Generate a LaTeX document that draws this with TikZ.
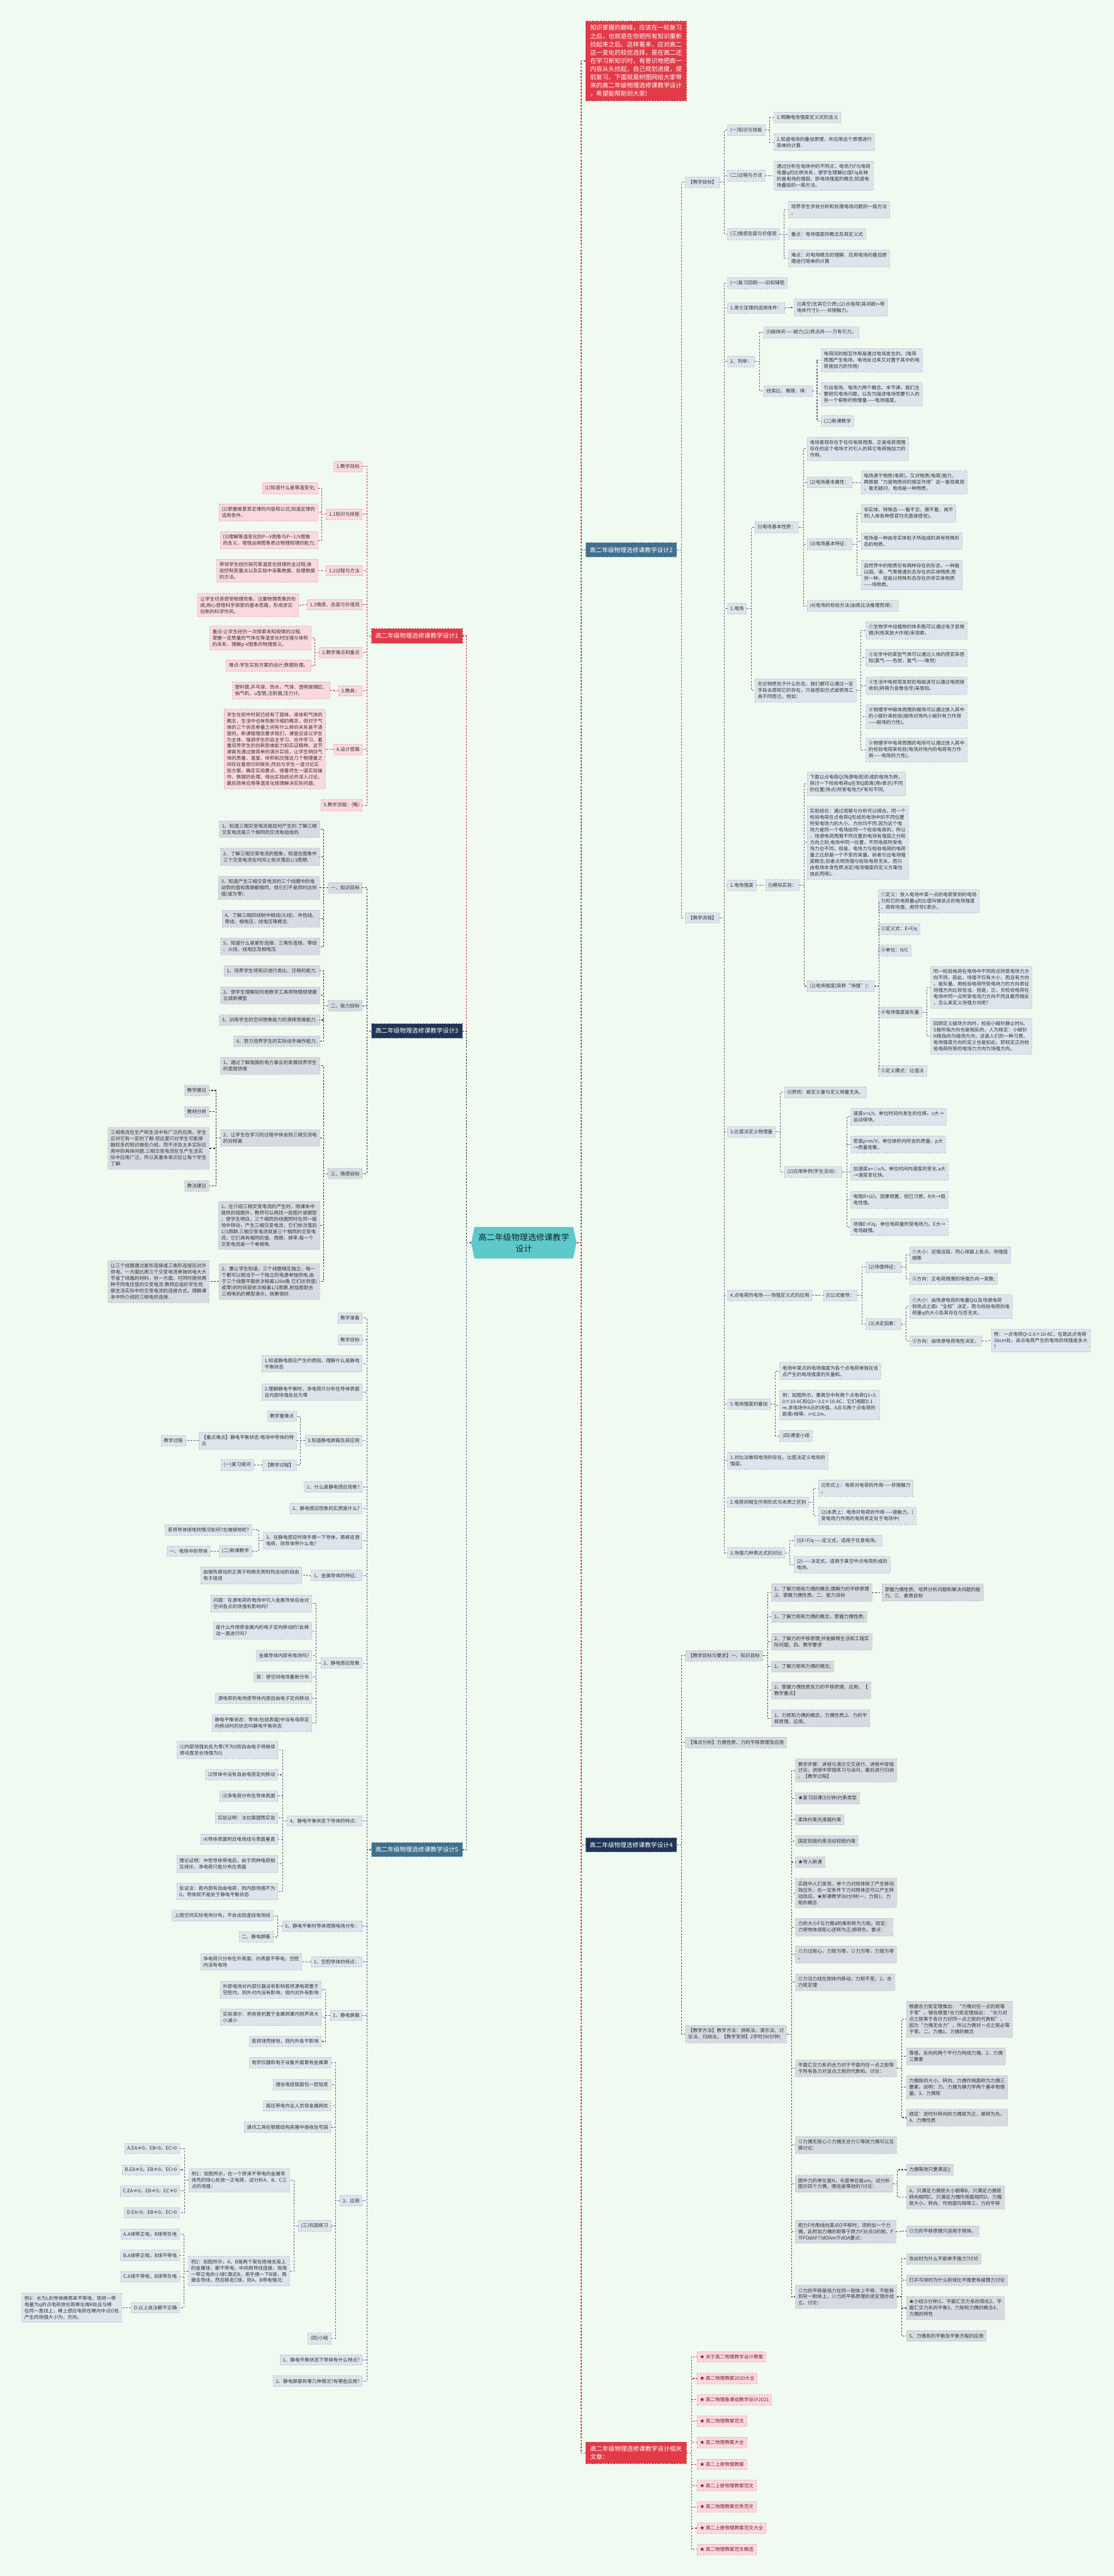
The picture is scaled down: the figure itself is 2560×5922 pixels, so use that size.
\documentclass[tikz,border=0pt]{standalone}
\usepackage{fontspec}
\setmainfont{Noto Sans CJK SC}
\usetikzlibrary{shapes.symbols}
\definecolor{bgc}{HTML}{F1FAF0}
\definecolor{grayb}{HTML}{DCE4EC}
\definecolor{grayn}{HTML}{D6DBE2}
\definecolor{grayline}{HTML}{B4C0CC}
\definecolor{pinkf}{HTML}{FAD9DE}
\definecolor{pinkline}{HTML}{EBA3AE}
\definecolor{redm}{HTML}{E23A47}
\definecolor{navym}{HTML}{1E3557}
\definecolor{steelm}{HTML}{41708F}
\definecolor{cyanm}{HTML}{5FC8CB}
\definecolor{txt}{HTML}{333333}
\definecolor{reltxt}{HTML}{7A1F2E}
\definecolor{lkred}{HTML}{C8343F}
\definecolor{lkblue}{HTML}{56677D}
\definecolor{lkdark}{HTML}{2B2B2B}
\definecolor{lksteel}{HTML}{3E6A88}
\tikzset{
  toR/.style={anchor=west},
  toL/.style={anchor=east},
  sm/.style={font=\fontsize{3.13}{4.1}\selectfont, align=left, inner xsep=0.06cm,
    inner ysep=0.07cm, text=txt, dash pattern=on 1pt off 0.8pt, line width=0.3pt},
  gb/.style={sm, fill=grayb, draw=grayline},
  gn/.style={sm, fill=grayn, draw=grayline},
  pk/.style={sm, fill=pinkf, draw=pinkline},
  rl/.style={sm, fill=pinkf, draw=pinkline, text=reltxt},
  mainbox/.style={font=\fontsize{4}{5.4}\selectfont, align=left, inner xsep=0.09cm,
    inner ysep=0.1cm, text=white, dash pattern=on 1pt off 0.8pt, line width=0.3pt},
  mred/.style={mainbox, fill=redm, draw=lkred, inner xsep=0.1cm, inner ysep=0.085cm},
  mnavy/.style={mainbox, fill=navym, draw=navym!60!white},
  msteel/.style={mainbox, fill=steelm, draw=steelm!60!white},
  root/.style={signal, signal to=west and east, signal pointer angle=156, fill=cyanm,
    minimum width=2.42cm, minimum height=0.72cm, inner sep=0pt, align=center,
    font=\fontsize{5.4}{7.4}\selectfont, text=black!80!cyanm},
  lk/.style={dash pattern=on 1.2pt off 0.9pt, line width=0.45pt},
  lkR/.style={lk, draw=lkred},
  lkB/.style={lk, draw=lkblue},
  lkC/.style={lk, draw=lkdark},
  lkD/.style={lk, draw=lkdark!85!white},
  lkE/.style={lk, draw=lksteel},
  spine/.style={line width=0.6pt}
}
\begin{document}
\begin{tikzpicture}[x=0.01cm,y=-0.01cm]
\fill[bgc] (0,0) rectangle (2560,5922);
\useasboundingbox (0,0) rectangle (2560,5922);

\node[root] (root) at (1204,2857) {高二年级物理选修课教学\\设计};

% right side, intro and design 2
\node[mred,toR] (intro) at (1346,140) {知识掌握的巅峰，应该在一轮复习\\之后，也就是在你把所有知识重新\\捡起来之后。这样看来，应对高二\\这一变化的较优选择，是在高二还\\在学习新知识时，有意识地把高一\\内容从头捡起，自己规划进度，提\\前复习。下面就是树图网给大家带\\来的高二年级物理选修课教学设计\\，希望能帮助到大家!};
\node[msteel,toR] (d2) at (1346,1264) {高二年级物理选修课教学设计2};
\node[gb,toR] (b1) at (1575,419) {【教学目标】};
\node[gb,toR] (b11) at (1672,299) {(一)知识与技能};
\node[gb,toR] (b111) at (1779,270) {1.明确电场强度定义式的含义};
\node[gb,toR] (b112) at (1779,327) {2.知道电场的叠加原理，并应用这个原理进行\\简单的计算.};
\node[gb,toR] (b12) at (1672,404) {(二)过程与方法};
\node[gb,toR] (b121) at (1779,404) {通过分析在电场中的不同点，电场力F与电荷\\电量q的比例关系，使学生理解比值F/q反映\\的是电场的强弱，即电场强度的概念;知道电\\场叠加的一般方法。};
\node[gb,toR] (b13) at (1672,538) {(三)情感态度与价值观};
\node[gb,toR] (b131) at (1812,482) {培养学生学会分析和处理电场问题的一般方法\\。};
\node[gb,toR] (b132) at (1812,538) {重点：电场强度的概念及其定义式};
\node[gb,toR] (b133) at (1812,594) {难点：对电场概念的理解、应用电场的叠加原\\理进行简单的计算};

\node[gb,toR] (b2) at (1575,2110) {【教学流程】};
\node[gb,toR] (c1) at (1672,651) {(一)复习回顾——旧知铺垫};
\node[gb,toR] (c2) at (1672,708) {1.库仑定律的适用条件：};
\node[gb,toR] (c21) at (1825,707) {(l)真空(无其它介质);(2)点电荷(其间距r>>带\\电体尺寸l)——非接触力。};
\node[gb,toR] (c3) at (1672,831) {2、列举：};
\node[gb,toR] (c31) at (1755,764) {(l)磁体间——磁力;(2)质点间——万有引力。};
\node[gb,toR] (c32) at (1755,899) {经类比、推理，得：};
\node[gb,toR] (c321) at (1887,828) {电荷间的相互作用是通过电场发生的。(电荷\\周围产生电场，电场反过来又对置于其中的电\\荷施加力的作用)};
\node[gb,toR] (c322) at (1887,906) {引出电场、电场力两个概念。本节课，我们主\\要研究电场问题，以及为描述电场而要引入的\\另一个崭新的物理量——电场强度。};
\node[gb,toR] (c323) at (1887,968) {(二)新课教学};
\node[gb,toR] (c4) at (1672,1399) {1.电场};
\node[gb,toR] (c41) at (1735,1212) {(l)电场基本性质：};
\node[gb,toR] (c411) at (1855,1032) {电场客观存在于任何电荷周围，正是电荷周围\\存在的这个电场才对引入的其它电荷施加力的\\作用。};
\node[gb,toR] (c412) at (1855,1109) {(2)电场基本属性：};
\node[gb,toR] (c4121) at (1979,1109) {电场源于物质(电荷)，又对物质(电荷)施力。\\再根据“力是物质间的相互作用”这一客观真观\\，毫无疑问，电场是一种物质。};
\node[gb,toR] (c413) at (1855,1251) {(3)电场基本特征：};
\node[gb,toR] (c4131) at (1979,1180) {非实体、特殊态——看不见、摸不着、闻不\\到(人体各种感官均无直接感觉)。};
\node[gb,toR] (c4132) at (1979,1244) {电场是一种由非实体粒子所组成的具有特殊形\\态的物质。};
\node[gb,toR] (c4133) at (1979,1322) {自然界中的物质仅有两种存在的形态，一种是\\以固、液、气等普通形态存在的实体物质;而\\另一种，就是以特殊形态存在的非实体物质\\——场物质。};
\node[gb,toR] (c414) at (1855,1393) {(4)电场的检验方法(由类比法推理而得)：};
\node[gb,toR] (c42) at (1735,1587) {无论物质处于什么形态，我们都可以通过一定\\手段去感知它的存在，只是感知方式或使用工\\具不同而已，例如：};
\node[gb,toR] (c421) at (1990,1449) {①生物学中动植物的体系胞可以通过电子显微\\镜(利用其放大作用)来观察。};
\node[gb,toR] (c422) at (1990,1512) {②化学中的某些气体可以通过人体的感官来感\\知(氯气——色觉，氨气——嗅觉)};
\node[gb,toR] (c423) at (1990,1576) {③生活中电视塔发射的电磁波可以通过电视接\\收机(转换为音像信号)来感知。};
\node[gb,toR] (c424) at (1990,1647) {④物理学中磁体周围的磁场可以通过放入其中\\的小磁针来检验(磁场对场内小磁针有力作用\\——磁场的力性)。};
\node[gb,toR] (c425) at (1990,1724) {⑤物理学中电荷周围的电场可以通过放入其中\\的检验电荷来检验(电场对场内的电荷有力作\\用——电场的力性)。};
\node[gb,toR] (c5) at (1672,2035) {2.电场强度};
\node[gb,toR] (c51) at (1759,2035) {(l)模拟实验：};
\node[gb,toR] (c511) at (1855,1802) {下面以点电荷Q(场源电荷)形成的电场为例，\\探讨一下检验电荷q在到Q距离(用r表示)不同\\的位置(场点)所受电场力F有何不同。};
\node[gb,toR] (c512) at (1855,1937) {实验结论：通过观察与分析可以得出，同一个\\检验电荷在点电荷Q形成的电场中的不同位置\\所受电场力的大小、方向均不同.因为这个电\\场力是同一个电场给同一个检验电荷的，所以\\，场源电荷周围不同位置的电场有强弱之分和\\方向之别;电场中同一位置，不同电荷所受电\\场力也不同，但是，电场力与检验电荷的电荷\\量之比却是一个不变的常量。前者引出电场强\\度概念;后者点明场强与检验电荷无关，而只\\由电场本身性质决定(电场强度的定义方案也\\由此而得)。};
\node[gb,toR] (c513) at (1855,2267) {(2)电场强度(简称“场强”)：};
\node[gb,toR] (c5131) at (2018,2072) {①定义：放入电场中某一点的电荷受到的电场\\力和它的电荷量q的比值叫做该点的电场强度\\，简称场强，用符号E表示。};
\node[gb,toR] (c5132) at (2018,2136) {②定义式：E=F/q};
\node[gb,toR] (c5133) at (2018,2185) {③单位：N/C};
\node[gb,toR] (c5134) at (2018,2327) {④电场强度是矢量};
\node[gb,toR] (c51341) at (2139,2270) {同一检验电荷在电场中不同的点所受电场力方\\向不同，因此，场强不仅有大小，而且有方向\\，是矢量。用检验电荷所受电场力的方向表征\\场强方向比较恰当，但是，正、负检验电荷在\\电场中同一点所受电场力方向不同且截然相反\\，怎么来定义场强方向呢?};
\node[gb,toR] (c51342) at (2139,2382) {回顾定义磁场方向时，检验小磁针静止时N、\\S极所指方向也是相反的，人为规定：小磁针\\N极指向为磁场方向，这是人们的一种习惯。\\电场强度方向的定义也是如此，即规定正的检\\验电荷所受的电场力方向为场强方向。};
\node[gb,toR] (c5135) at (2018,2462) {⑤定义模式：比值法};
\node[gb,toR] (c6) at (1672,2602) {3.比值法定义物理量};
\node[gb,toR] (c61) at (1803,2511) {(l)原则：被定义量与定义用量无关。};
\node[gb,toR] (c62) at (1803,2694) {(2)应用举例(学生活动)：};
\node[gb,toR] (c621) at (1955,2567) {速度v=s/t。单位时间内发生的位移。v大→\\运动得快。};
\node[gb,toR] (c622) at (1955,2631) {密度ρ=m/V。单位体积内所含的质量。ρ大\\→质量密集。};
\node[gb,toR] (c623) at (1955,2694) {加速度a=△v/t。单位时间内速度的变化.a大\\→速度变化快。};
\node[gb,toR] (c624) at (1955,2758) {电阻R=U/I。因果倒置，但已习惯。R大→阻\\电性强。};
\node[gb,toR] (c625) at (1955,2821) {场强E=F/q。单位电荷量所受电场力。E大→\\电场越强。};
\node[gb,toR] (c7) at (1672,2978) {4.点电荷的电场——场强定义式的应用};
\node[gb,toR] (c71) at (1892,2978) {(l)公式推导：};
\node[gb,toR] (c711) at (1990,2913) {(2)场强特征：};
\node[gb,toR] (c7111) at (2090,2885) {①大小：近强远弱，同心球面上各点，场强值\\相等};
\node[gb,toR] (c7112) at (2090,2940) {②方向：正电荷周围的场强方向一发散;};
\node[gb,toR] (c712) at (1990,3044) {(3)决定因素：};
\node[gb,toR] (c7121) at (2090,3004) {①大小：由场源电荷的电量Q以及场源电荷\\到场点之距r“全权”决定，而与检验电荷的电\\荷量q的大小及其存在与否无关。};
\node[gb,toR] (c7122) at (2090,3083) {②方向：由场源电荷电性决定。};
\node[gb,toR] (c71221) at (2278,3082) {例：一点电荷Q=2.0×10-8C，在距此点电荷\\30cm处，该点电荷产生的电场的场强是多大\\?};
\node[gb,toR] (c8) at (1672,3228) {5.电场强度的叠加};
\node[gb,toR] (c81) at (1792,3152) {电场中某点的电场强度为各个点电荷单独在该\\点产生的电场强度的矢量和。};
\node[gb,toR] (c82) at (1792,3230) {例：如图所示，要真空中有两个点电荷Q1=3.\\0×10-8C和Q2=-3.0×10-8C，它们相距0.1\\m.求电场中A点的场强。A点与两个点电荷的\\距离r相等，r=0.1m。};
\node[gb,toR] (c83) at (1792,3301) {(四)课堂小结};
\node[gb,toR] (c9) at (1672,3358) {1.对比法推知电场的存在，比值法定义电场的\\强度。};
\node[gb,toR] (c10) at (1672,3453) {2.电荷间相互作用形式与本质之区别};
\node[gb,toR] (c101) at (1881,3421) {(l)形式上：电荷对电荷的作用——非接触力\\。};
\node[gb,toR] (c102) at (1881,3485) {(2)本质上：电场对电荷的作用——接触力。(\\受电场力作用的电荷肯定处于电场中)};
\node[gb,toR] (c11) at (1672,3570) {3.场强几种表达式的对比};
\node[gb,toR] (c111) at (1825,3542) {(l)E=F/q——定义式，适用于任意电场。};
\node[gb,toR] (c112) at (1825,3597) {(2)——决定式，适用于真空中点电荷形成的\\电场。};

% right side, design 4
\node[mnavy,toR] (d4) at (1346,4241) {高二年级物理选修课教学设计4};
\node[gn,toR] (e1) at (1575,3806) {【教学目标与要求】一、知识目标};
\node[gn,toR] (e11) at (1773,3661) {1、了解力矩和力偶的概念;理解力的平移原理\\;2、掌握力偶性质。二、能力目标};
\node[gn,toR] (e111) at (2027,3661) {掌握力偶性质，培养分析问题和解决问题的能\\力。三、素质目标};
\node[gn,toR] (e12) at (1773,3717) {1、了解力矩和力偶的概念，掌握力偶性质;};
\node[gn,toR] (e13) at (1773,3774) {2、了解力的平移原理;并能解释生活和工程实\\际问题。四、教学要求};
\node[gn,toR] (e14) at (1773,3831) {1、了解力矩和力偶的概念;};
\node[gn,toR] (e15) at (1773,3886) {2、掌握力偶性质及力的平移原理、应用。【\\教学重点】};
\node[gn,toR] (e16) at (1773,3950) {1、力矩和力偶的概念，力偶性质;2、力的平\\移原理、应用。};
\node[gn,toR] (e2) at (1575,4006) {【难点分析】力偶性质、力的平移原理及应用};
\node[gn,toR] (e3) at (1575,4676) {【教学方法】教学方法：讲练法、演示法、讨\\论法、归纳法。【教学安排】2学时(90分钟)};
\node[gn,toR] (e31) at (1828,4070) {教学步骤：讲授与演示交叉进行、讲授中穿插\\讨论、讲授中穿插练习与设问，最后进行归纳\\。【教学过程】};
\node[gn,toR] (e32) at (1828,4134) {★复习旧课(5分钟)约束类型};
\node[gn,toR] (e33) at (1828,4183) {柔体约束光滑面约束};
\node[gn,toR] (e34) at (1828,4232) {固定铰链约束活动铰链约束};
\node[gn,toR] (e35) at (1828,4281) {★导入新课};
\node[gn,toR] (e36) at (1828,4352) {实践中人们发现，单个力对刚体除了产生移动\\效应外，在一定条件下力对刚体还可以产生转\\动效应。★新课教学(80分钟)一、力矩1、力\\矩的概念};
\node[gn,toR] (e37) at (1828,4430) {力的大小F与力臂d的乘积称为力矩。规定：\\力使物体绕矩心逆转为正;顺转负。要点：};
\node[gn,toR] (e38) at (1828,4493) {⊙力过矩心，力矩为零。⊙力为零，力矩为零\\。};
\node[gn,toR] (e39) at (1828,4557) {⊙力沿力线在刚体内移动，力矩不变。2、合\\力矩定理};
\node[gn,toR] (e310) at (1828,4755) {平面汇交力系的合力对于平面内任一点之矩等\\于所有各力对该点之矩的代数和。讨论：};
\node[gn,toR] (e3101) at (2083,4642) {根据合力矩定理推出：“力偶对任一点的矩等\\于零”，错在哪里?合力矩定理指出：“合力对\\点之矩等于各分力对同一点之矩的代数和”，\\因为“力偶无合力”，所以力偶对一点之矩必等\\于零。二、力偶1、力偶的概念};
\node[gn,toR] (e3102) at (2083,4727) {等值、反向的两个平行力构成力偶。2、力偶\\三要素};
\node[gn,toR] (e3103) at (2083,4798) {力偶矩的大小、转向、力偶作用面称为力偶三\\要素。说明：力、力偶为静力学两个基本物理\\量。3、力偶矩};
\node[gn,toR] (e3104) at (2083,4868) {规定：逆时针转向的力偶矩为正，顺转为负。\\4、力偶性质};
\node[gn,toR] (e311) at (1828,4931) {⊙力偶无矩心⊙力偶无合力⊙等效力偶可以互\\换讨论：};
\node[gn,toR] (e312) at (1828,5020) {图中力的单位是N，长度单位是cm。试分析\\图示四个力偶，哪些是等效的?讨论：};
\node[gn,toR] (e3121) at (2083,4988) {力偶等效只要满足()};
\node[gn,toR] (e3122) at (2083,5051) {A、只满足力偶矩大小相等B、只满足力偶矩\\转向相同C、只满足力偶作用面相同D、力偶\\矩大小、转向、作用面均相等三、力的平移};
\node[gn,toR] (e313) at (1828,5130) {把力F作用线向某点O平移时，须附加一个力\\偶，此附加力偶的矩等于原力F对点O的矩。F\\?FFOdAF??dOAm?FdOA要点：};
\node[gn,toR] (e3131) at (2083,5129) {⊙力的平移原理只适用于刚体。};
\node[gn,toR] (e314) at (1828,5280) {⊙力的平移是指力在同一刚体上平移，不能移\\到另一刚体上。⊙力的平移原理的逆定理亦成\\立。讨论：};
\node[gn,toR] (e3141) at (2083,5193) {攻丝时为什么不能单手施力?讨论};
\node[gn,toR] (e3142) at (2083,5242) {打乒乓球时为什么削球比平推更有威慑力讨论};
\node[gn,toR] (e3143) at (2083,5306) {★小结(5分钟)1、平面汇交力系的简化2、平\\面汇交力系的平衡3、力矩和力偶的概念4、\\力偶的特性};
\node[gn,toR] (e3144) at (2083,5370) {5、力偶系的平衡及平衡方程的应用};

% right side, related articles
\node[mred,toR] (rel) at (1346,5639) {高二年级物理选修课教学设计相关\\文章：};
\node[rl,toR] (r1) at (1602,5418) {★ 关于高二物理教学设计教案};
\node[rl,toR] (r2) at (1602,5468) {★ 高二物理教案2020大全};
\node[rl,toR] (r3) at (1602,5517) {★ 高二物理备课组教学设计2021};
\node[rl,toR] (r4) at (1602,5566) {★ 高二物理教案范文};
\node[rl,toR] (r5) at (1602,5615) {★ 高二物理教案大全};
\node[rl,toR] (r6) at (1602,5665) {★ 高二上册物理教案};
\node[rl,toR] (r7) at (1602,5714) {★ 高二上册物理教案范文};
\node[rl,toR] (r8) at (1602,5763) {★ 高二物理教案优秀范文};
\node[rl,toR] (r9) at (1602,5812) {★ 高二上册物理教案范文大全};
\node[rl,toR] (r10) at (1602,5861) {★ 高二物理教案范文精选};

% left side, design 1
\node[mred,toL,inner xsep=0.09cm,inner ysep=0.1cm] (d1) at (1063,1462) {高二年级物理选修课教学设计1};
\node[pk,toL] (f1) at (833,1072) {1.教学目标};
\node[pk,toL] (f2) at (833,1182) {1.1知识与技能};
\node[pk,toL] (f21) at (731,1122) {(1)知道什么是等温变化;};
\node[pk,toL] (f22) at (731,1178) {(2)掌握玻意耳定律的内容和公式;知道定律的\\适用条件。};
\node[pk,toL] (f23) at (731,1242) {(3)理解等温变化的P—V图象与P—1/V图象\\的含义，增强运用图象表达物理规律的能力;};
\node[pk,toL] (f3) at (833,1312) {1.2过程与方法};
\node[pk,toL] (f31) at (731,1312) {带领学生经历探究等温变化规律的全过程,体\\验控制变量法以及实验中采集数据、处理数据\\的方法。};
\node[pk,toL] (f4) at (833,1390) {1.3情感、态度与价值观};
\node[pk,toL] (f41) at (687,1391) {让学生切身感受物理现象，注重物理表象的形\\成;用心感悟科学探索的基本思路，形成求实\\创新的科学作风。};
\node[pk,toL] (f5) at (833,1500) {2.教学难点和重点};
\node[pk,toL] (f51) at (715,1467) {重点:让学生经历一次探索未知规律的过程,\\掌握一定质量的气体在等温变化时压强与体积\\的关系，理解p-V图象的物理意义。};
\node[pk,toL] (f52) at (715,1530) {难点:学生实验方案的设计;数据处理。};
\node[pk,toL] (f6) at (833,1588) {3.教具：};
\node[pk,toL] (f61) at (759,1587) {塑料管,乒乓球、热水，气球、透明玻璃缸、\\抽气机，u型管,注射器,压力计。};
\node[pk,toL] (f7) at (833,1723) {4.设计思路};
\node[pk,toL] (f71) at (748,1722) {学生在初中时就已经有了固体、液体和气体的\\概念，生活中也有热胀冷缩的概念，但对于气\\体的三个状态参量之间有什么样的关系是不清\\楚的。新课程理念要求我们，课堂应该以学生\\为主体，强调学生的自主学习、合作学习，着\\重培养学生的创新思维能力和实证精神。这节\\课首先通过做简单的演示实验，让学生明白气\\体的质量、温度、体积和压强这几个物理量之\\间存在着密切的联系;然后与学生一道讨论实\\验方案，确定实验要点，接着师生一道实验操\\作，数据的处理，得出实验结论并深入讨论，\\最后简单应用等温变化规律解决实际问题。};
\node[pk,toL] (f8) at (833,1851) {5.教学流程：(略)};

% left side, design 3
\node[mnavy,toL] (d3) at (1063,2370) {高二年级物理选修课教学设计3};
\node[gn,toL] (g1) at (833,2041) {一、知识目标};
\node[gn,toL] (g11) at (735,1906) {1、知道三相交变电流是如何产生的.了解三相\\交变电流是三个相同的交流电组成的.};
\node[gn,toL] (g12) at (735,1970) {2、了解三相交变电流的图象，知道在图象中\\三个交变电流在时间上依次落后1/3周期.};
\node[gn,toL] (g13) at (735,2041) {3、知道产生三相交变电流的三个线圈中的电\\动势的值和周期都相同，但它们不是同时达到\\值(或为零).};
\node[gn,toL] (g14) at (735,2112) {4、了解三相四线制中相线(火线)、中性线、\\零线、相电压、线电压等概念.};
\node[gn,toL] (g15) at (735,2176) {5、知道什么是星形连接、三角形连接、零线\\、火线、线电压及相电压.};
\node[gn,toL] (g2) at (833,2312) {二、能力目标};
\node[gn,toL] (g21) at (735,2232) {1、培养学生将知识进行类比、迁移的能力.};
\node[gn,toL] (g22) at (735,2288) {2、使学生理解如何用数学工具将物理规律建\\立成新模型};
\node[gn,toL] (g23) at (735,2345) {3、训练学生的空间想象能力的演绎思维能力.};
\node[gn,toL] (g24) at (735,2394) {4、努力培养学生的实际动手操作能力.};
\node[gn,toL] (g3) at (833,2698) {三、情感目标};
\node[gn,toL] (g31) at (735,2450) {1、通过了解我国的电力事业的发展培养学生\\的爱国热情};
\node[gn,toL] (g32) at (735,2616) {2、让学生在学习的过程中体会到三相交流电\\的对称美};
\node[gn,toL] (g321) at (481,2507) {教学建议};
\node[gn,toL] (g322) at (481,2556) {教材分析};
\node[gn,toL] (g323) at (481,2640) {三相电流在生产和生活中有广泛的应用，学生\\应对它有一定的了解.但这里只对学生可能接\\触较多的知识做些介绍，而不涉及太多实际应\\用中的具体问题.三相交变电流在生产生活实\\际中应用广泛，所以其基本常识应让每个学生\\了解.};
\node[gn,toL] (g324) at (481,2726) {教法建议};
\node[gn,toL] (g33) at (735,2817) {1、在介绍三相交变电流的产生时，除课本中\\提供的插图外，教师可以再找一些图片或模型\\，使学生明白，三个相同的线圈同时在同一磁\\场中转动，产生三相交变电流，它们依次落后\\1/3周期.三相交变电流就是三个相同的交变电\\流，它们具有相同的值、周期、频率.每一个\\交变电流是一个单相电.};
\node[gn,toL] (g34) at (735,2946) {2、要让学生知道，三个线圈相互独立，每一\\个都可以相当于一个独立的电源单独供电.由\\于三个线圈平面依次相差120o角.它们达到值(\\或零)的时间就依次相差1/3周期.用挂图配合\\三相电机的模型演示，效果很好.};
\node[gn,toL] (g341) at (481,2946) {让三个线圈通过星形连接或三角形连接后对外\\供电，一方面比用三个交变电流单独供电大大\\节省了线路的材料，另一方面，可同时提供两\\种不同电压值的交变电流.教师应组织学生观\\察生活实际中的交变电流的连接方式，理解课\\本中所介绍的三相电的连接.};

% left side, design 5
\node[msteel,toL] (d5) at (1063,4252) {高二年级物理选修课教学设计5};
\node[gb,toL] (h1) at (833,3030) {教学准备};
\node[gb,toL] (h2) at (833,3080) {教学目标};
\node[gb,toL] (h3) at (833,3135) {1.知道静电感应产生的原因，理解什么是静电\\平衡状态};
\node[gb,toL] (h4) at (833,3200) {2.理解静电平衡时，净电荷只分布在导体表面\\且内部场强处处为零};
\node[gb,toL] (h5) at (833,3312) {3.知道静电屏蔽及其应用};
\node[gb,toL] (h51) at (682,3256) {教学重难点};
\node[gb,toL] (h52) at (682,3312) {【重点难点】静电平衡状态:电场中导体的特\\点};
\node[gb,toL] (h521) at (427,3312) {教学过程};
\node[gb,toL] (h53) at (682,3368) {【教学过程】};
\node[gb,toL] (h531) at (583,3368) {(一)复习提问};
\node[gb,toL] (h6) at (833,3418) {1、什么是静电感应现象?};
\node[gb,toL] (h7) at (833,3468) {2、静电感应现象的实质是什么?};
\node[gb,toL] (h8) at (833,3542) {3、在静电感应时用手摸一下导体，再移走源\\电荷，则导体带什么电?};
\node[gb,toL] (h81) at (579,3517) {若将导体接地则情况如何?左端接地呢?};
\node[gb,toL] (h82) at (579,3566) {(二)新课教学};
\node[gb,toL] (h821) at (484,3566) {一、电场中的导体};
\node[gb,toL] (h9) at (833,3622) {1、金属导体的特征：};
\node[gb,toL] (h91) at (694,3621) {由做热振动的正离子和做无规则热运动的自由\\电子组成};
\node[gb,toL] (h10) at (833,3823) {2、静电感应现象};
\node[gb,toL] (h101) at (717,3686) {问题：在源电荷的电场中引入金属导体后会对\\空间各点的场强有影响吗?};
\node[gb,toL] (h102) at (717,3749) {是什么作用使金属内的电子定向移动的?此移\\动一直进行吗?};
\node[gb,toL] (h103) at (717,3806) {金属导体内部有电场吗?};
\node[gb,toL] (h104) at (717,3855) {答：使空间电场重新分布};
\node[gb,toL] (h105) at (717,3904) {源电荷的电场使导体内部自由电子定向移动};
\node[gb,toL] (h106) at (717,3961) {静电平衡状态：导体(包括表面)中没有电荷定\\向移动时的状态叫静电平衡状态};
\node[gb,toL] (h11) at (833,4186) {4、静电平衡状态下导体的特点：};
\node[gb,toL] (h111) at (639,4023) {⑴内部场强处处为零(不为0则自由电子将继续\\移动直至合场强为0)};
\node[gb,toL] (h112) at (639,4080) {⑵导体中没有自由电荷定向移动};
\node[gb,toL] (h113) at (639,4129) {⑶净电荷分布在导体表面};
\node[gb,toL] (h114) at (639,4179) {实验证明：法拉第圆筒实验};
\node[gb,toL] (h115) at (639,4228) {⑷导体表面附近电场线与表面垂直};
\node[gb,toL] (h116) at (639,4285) {理论证明：中性导体带电后，由于同种电荷相\\互排斥，净电荷只能分布在表面};
\node[gb,toL] (h117) at (639,4348) {反证法：若内部有自由电荷，则内部场强不为\\0，导体就不是处于静电平衡状态};
\node[gb,toL] (h12) at (833,4428) {5、静电平衡时导体周围电场分布：};
\node[gb,toL] (h121) at (628,4404) {上图空间实际电场分布，不会出现虚线电场线};
\node[gb,toL] (h122) at (628,4453) {二、静电屏蔽};
\node[gb,toL] (h13) at (833,4510) {1、空腔导体的特点：};
\node[gb,toL] (h131) at (694,4510) {净电荷只分布在外表面，内表面不带电，空腔\\内没有电场};
\node[gb,toL] (h14) at (833,4633) {1、静电屏蔽};
\node[gb,toL] (h141) at (739,4574) {外部电场对内部仪器没有影响若将源电荷置于\\空腔内，则外对内没有影响，但内对外有影响};
\node[gb,toL] (h142) at (739,4637) {实验演示：将收音机置于金属网罩内则声音大\\小减小};
\node[gb,toL] (h143) at (739,4693) {若将球壳接地，则内外各不影响};
\node[gb,toL] (h15) at (833,5059) {3、应用};
\node[gb,toL] (h151) at (761,4742) {电学仪器和电子设备外面套有金属罩};
\node[gb,toL] (h152) at (761,4792) {通信电缆版面包一层铅皮};
\node[gb,toL] (h153) at (761,4841) {高压带电作业人员穿金属网衣};
\node[gb,toL] (h154) at (761,4890) {通讯工具在钢筋结构房屋中接收信号弱};
\node[gb,toL] (h155) at (761,5117) {(三)巩固练习};
\node[gb,toL] (h1551) at (666,5012) {例1：如图所示，在一个原来不带电的金属导\\体壳的球心处放一正电荷，试分析A、B、C三\\点的场强：};
\node[gb,toL] (h15511) at (413,4939) {A.EA≠0，EB=0，EC=0};
\node[gb,toL] (h15512) at (413,4988) {B.EA≠0，EB≠0，EC=0};
\node[gb,toL] (h15513) at (413,5037) {C.EA≠0，EB≠0，EC≠0};
\node[gb,toL] (h15514) at (413,5087) {D.EA=0，EB≠0，EC=0};
\node[gb,toL] (h1552) at (666,5221) {例2：如图所示，A、B是两个架在绝缘支座上\\的金属球，都不带电，中间用导线连接，现用\\一带正电的小球C靠近B，用手摸一下B球，再\\撤去导线，然后移走C球，则A、B带电情况：};
\node[gb,toL] (h15521) at (413,5136) {A.A球带正电，B球带负电};
\node[gb,toL] (h15522) at (413,5185) {B.A球带正电，B球不带电};
\node[gb,toL] (h15523) at (413,5234) {C.A球不带电，B球带负电};
\node[gb,toL] (h15524) at (413,5305) {D.以上说法都不正确};
\node[gb,toL] (h155241) at (280,5305) {例3：长为L的导体棒原来不带电，现将一带\\电量为q的点电荷放在距棒左端R处且与棒\\在同一直线上，棒上感应电荷在棒内中点O处\\产生的场强大小为，方向。};
\node[gb,toL] (h156) at (761,5376) {(四)小结};
\node[gb,toL] (h16) at (833,5425) {1、静电平衡状态下导体有什么特点?};
\node[gb,toL] (h17) at (833,5474) {2、静电屏蔽有哪几种情况?有哪些应用?};

% main spine
\draw[lkR,spine] (root.east) -- ++(10,0) |- (intro.west);
\draw[lkB,spine] (root.east) -- ++(10,0) |- (d2.west);
\draw[lkD,spine] (root.east) -- ++(10,0) |- (d4.west);
\draw[lkR,spine] (root.east) -- ++(10,0) |- (rel.west);
\draw[lkR,spine] (root.west) -- ++(-10,0) |- (d1.east);
\draw[lkC,spine] (root.west) -- ++(-10,0) |- (d3.east);
\draw[lkE,spine] (root.west) -- ++(-10,0) |- (d5.east);

% right links
\foreach \ch in {b1,b2} \draw[lkB] (d2.east) -- ++(11,0) |- (\ch.west);
\foreach \ch in {b11,b12,b13} \draw[lkB] (b1.east) -- ++(11,0) |- (\ch.west);
\foreach \ch in {b111,b112} \draw[lkB] (b11.east) -- ++(11,0) |- (\ch.west);
\draw[lkB] (b12.east) -- ++(11,0) |- (b121.west);
\foreach \ch in {b131,b132,b133} \draw[lkB] (b13.east) -- ++(11,0) |- (\ch.west);
\foreach \ch in {c1,c2,c3,c4,c5,c6,c7,c8,c9,c10,c11} \draw[lkB] (b2.east) -- ++(11,0) |- (\ch.west);
\draw[lkB] (c2.east) -- ++(11,0) |- (c21.west);
\foreach \ch in {c31,c32} \draw[lkB] (c3.east) -- ++(11,0) |- (\ch.west);
\foreach \ch in {c321,c322,c323} \draw[lkB] (c32.east) -- ++(11,0) |- (\ch.west);
\foreach \ch in {c41,c42} \draw[lkB] (c4.east) -- ++(11,0) |- (\ch.west);
\foreach \ch in {c411,c412,c413,c414} \draw[lkB] (c41.east) -- ++(11,0) |- (\ch.west);
\draw[lkB] (c412.east) -- ++(11,0) |- (c4121.west);
\foreach \ch in {c4131,c4132,c4133} \draw[lkB] (c413.east) -- ++(11,0) |- (\ch.west);
\foreach \ch in {c421,c422,c423,c424,c425} \draw[lkB] (c42.east) -- ++(11,0) |- (\ch.west);
\draw[lkB] (c5.east) -- ++(11,0) |- (c51.west);
\foreach \ch in {c511,c512,c513} \draw[lkB] (c51.east) -- ++(11,0) |- (\ch.west);
\foreach \ch in {c5131,c5132,c5133,c5134,c5135} \draw[lkB] (c513.east) -- ++(11,0) |- (\ch.west);
\foreach \ch in {c51341,c51342} \draw[lkB] (c5134.east) -- ++(11,0) |- (\ch.west);
\foreach \ch in {c61,c62} \draw[lkB] (c6.east) -- ++(11,0) |- (\ch.west);
\foreach \ch in {c621,c622,c623,c624,c625} \draw[lkB] (c62.east) -- ++(11,0) |- (\ch.west);
\draw[lkB] (c7.east) -- ++(11,0) |- (c71.west);
\foreach \ch in {c711,c712} \draw[lkB] (c71.east) -- ++(11,0) |- (\ch.west);
\foreach \ch in {c7111,c7112} \draw[lkB] (c711.east) -- ++(11,0) |- (\ch.west);
\foreach \ch in {c7121,c7122} \draw[lkB] (c712.east) -- ++(11,0) |- (\ch.west);
\draw[lkB] (c7122.east) -- ++(11,0) |- (c71221.west);
\foreach \ch in {c81,c82,c83} \draw[lkB] (c8.east) -- ++(11,0) |- (\ch.west);
\foreach \ch in {c101,c102} \draw[lkB] (c10.east) -- ++(11,0) |- (\ch.west);
\foreach \ch in {c111,c112} \draw[lkB] (c11.east) -- ++(11,0) |- (\ch.west);

\foreach \ch in {e1,e2,e3} \draw[lkD] (d4.east) -- ++(11,0) |- (\ch.west);
\foreach \ch in {e11,e12,e13,e14,e15,e16} \draw[lkD] (e1.east) -- ++(11,0) |- (\ch.west);
\draw[lkD] (e11.east) -- ++(11,0) |- (e111.west);
\foreach \ch in {e31,e32,e33,e34,e35,e36,e37,e38,e39,e310,e311,e312,e313,e314} \draw[lkD] (e3.east) -- ++(11,0) |- (\ch.west);
\foreach \ch in {e3101,e3102,e3103,e3104} \draw[lkD] (e310.east) -- ++(11,0) |- (\ch.west);
\foreach \ch in {e3121,e3122} \draw[lkD] (e312.east) -- ++(11,0) |- (\ch.west);
\draw[lkD] (e313.east) -- ++(11,0) |- (e3131.west);
\foreach \ch in {e3141,e3142,e3143,e3144} \draw[lkD] (e314.east) -- ++(11,0) |- (\ch.west);

\foreach \ch in {r1,r2,r3,r4,r5,r6,r7,r8,r9,r10} \draw[lkR] (rel.east) -- ++(11,0) |- (\ch.west);

% left links
\foreach \ch in {f1,f2,f3,f4,f5,f6,f7,f8} \draw[lkR] (d1.west) -- ++(-10,0) |- (\ch.east);
\foreach \ch in {f21,f22,f23} \draw[lkR] (f2.west) -- ++(-10,0) |- (\ch.east);
\draw[lkR] (f3.west) -- ++(-10,0) |- (f31.east);
\draw[lkR] (f4.west) -- ++(-10,0) |- (f41.east);
\foreach \ch in {f51,f52} \draw[lkR] (f5.west) -- ++(-10,0) |- (\ch.east);
\draw[lkR] (f6.west) -- ++(-10,0) |- (f61.east);
\draw[lkR] (f7.west) -- ++(-10,0) |- (f71.east);

\foreach \ch in {g1,g2,g3} \draw[lkC] (d3.west) -- ++(-10,0) |- (\ch.east);
\foreach \ch in {g11,g12,g13,g14,g15} \draw[lkC] (g1.west) -- ++(-10,0) |- (\ch.east);
\foreach \ch in {g21,g22,g23,g24} \draw[lkC] (g2.west) -- ++(-10,0) |- (\ch.east);
\foreach \ch in {g31,g32,g33,g34} \draw[lkC] (g3.west) -- ++(-10,0) |- (\ch.east);
\foreach \ch in {g321,g322,g323,g324} \draw[lkC] (g32.west) -- ++(-10,0) |- (\ch.east);
\draw[lkC] (g34.west) -- ++(-10,0) |- (g341.east);

\foreach \ch in {h1,h2,h3,h4,h5,h6,h7,h8,h9,h10,h11,h12,h13,h14,h15,h16,h17} \draw[lkE] (d5.west) -- ++(-10,0) |- (\ch.east);
\foreach \ch in {h51,h52,h53} \draw[lkE] (h5.west) -- ++(-10,0) |- (\ch.east);
\draw[lkE] (h52.west) -- ++(-10,0) |- (h521.east);
\draw[lkE] (h53.west) -- ++(-10,0) |- (h531.east);
\foreach \ch in {h81,h82} \draw[lkE] (h8.west) -- ++(-10,0) |- (\ch.east);
\draw[lkE] (h82.west) -- ++(-10,0) |- (h821.east);
\draw[lkE] (h9.west) -- ++(-10,0) |- (h91.east);
\foreach \ch in {h101,h102,h103,h104,h105,h106} \draw[lkE] (h10.west) -- ++(-10,0) |- (\ch.east);
\foreach \ch in {h111,h112,h113,h114,h115,h116,h117} \draw[lkE] (h11.west) -- ++(-10,0) |- (\ch.east);
\foreach \ch in {h121,h122} \draw[lkE] (h12.west) -- ++(-10,0) |- (\ch.east);
\draw[lkE] (h13.west) -- ++(-10,0) |- (h131.east);
\foreach \ch in {h141,h142,h143} \draw[lkE] (h14.west) -- ++(-10,0) |- (\ch.east);
\foreach \ch in {h151,h152,h153,h154,h155,h156} \draw[lkE] (h15.west) -- ++(-10,0) |- (\ch.east);
\foreach \ch in {h1551,h1552} \draw[lkE] (h155.west) -- ++(-10,0) |- (\ch.east);
\foreach \ch in {h15511,h15512,h15513,h15514} \draw[lkE] (h1551.west) -- ++(-10,0) |- (\ch.east);
\foreach \ch in {h15521,h15522,h15523,h15524} \draw[lkE] (h1552.west) -- ++(-10,0) |- (\ch.east);
\draw[lkE] (h15524.west) -- ++(-10,0) |- (h155241.east);
\end{tikzpicture}
\end{document}
